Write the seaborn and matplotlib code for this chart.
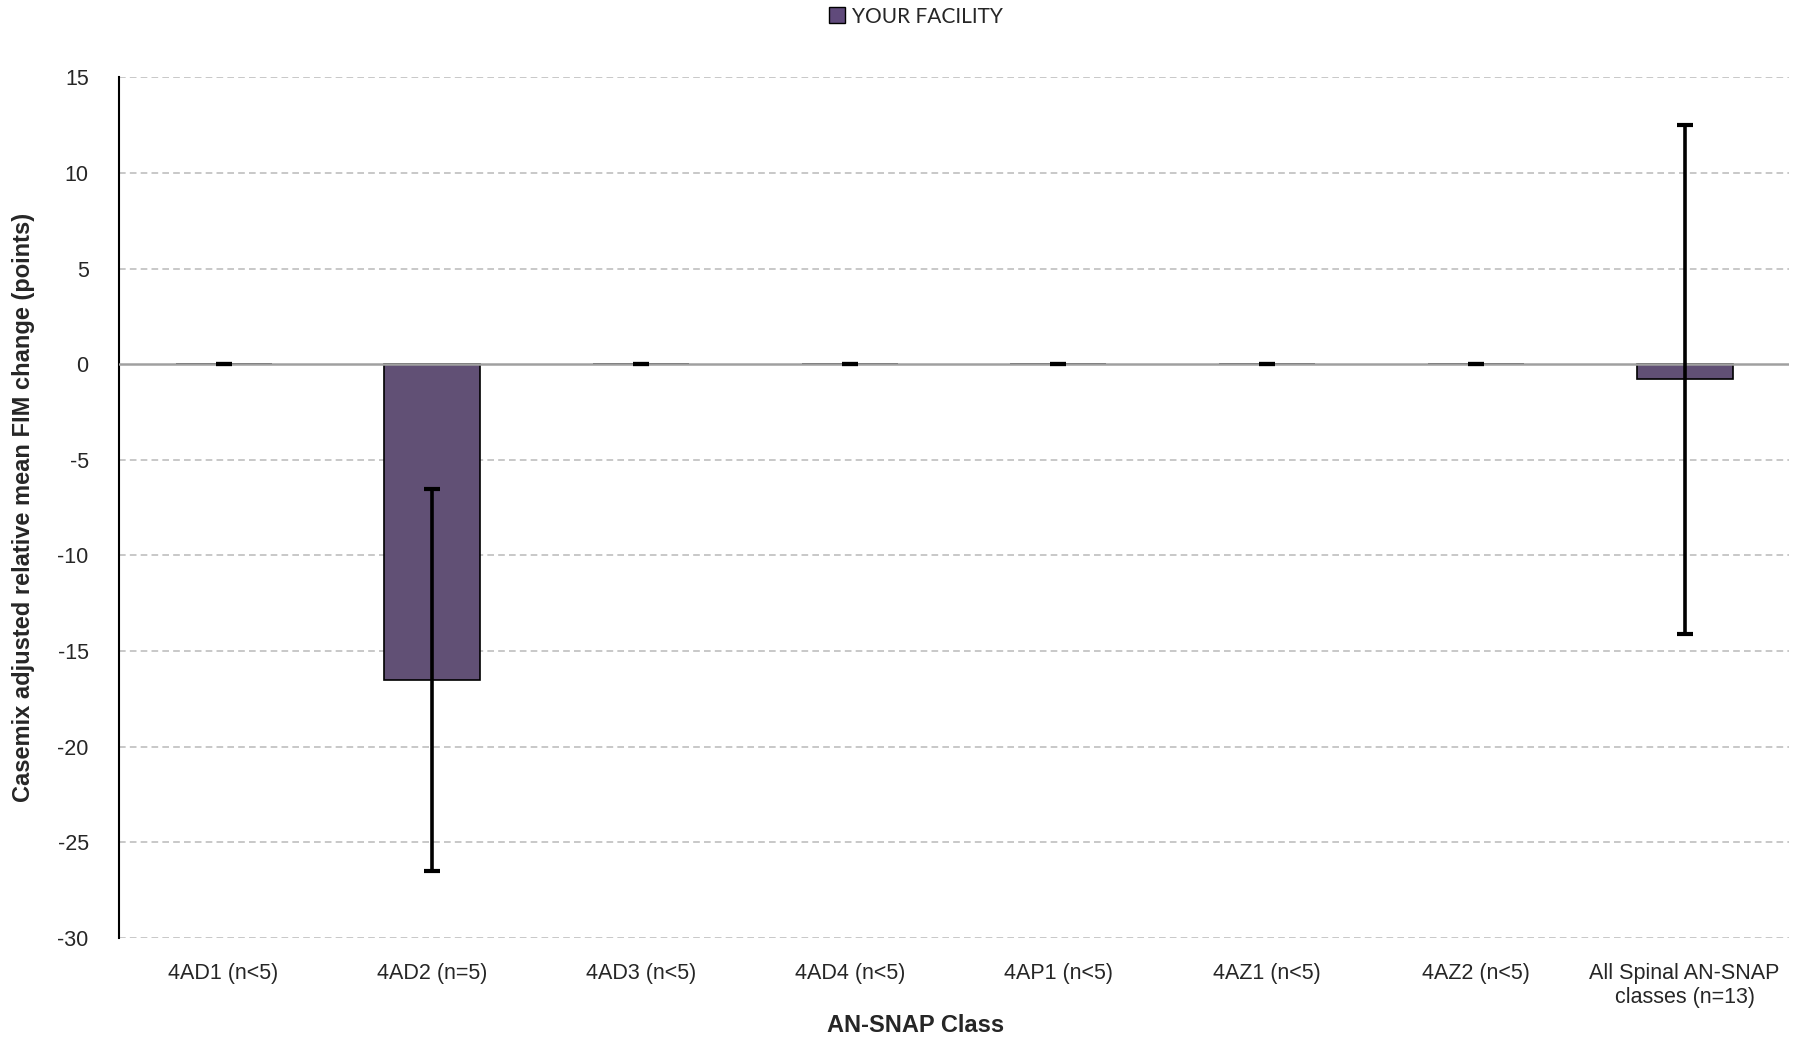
import numpy as np
import pandas as pd
import matplotlib
matplotlib.use("Agg")
import matplotlib.pyplot as plt
import seaborn as sns
from matplotlib.patches import Patch

# values
classes = ["4AD1 (n<5)", "4AD2 (n=5)", "4AD3 (n<5)", "4AD4 (n<5)",
           "4AP1 (n<5)", "4AZ1 (n<5)", "4AZ2 (n<5)",
           "All Spinal AN-SNAP\nclasses (n=13)"]
fim_change = [0.0, -16.5, 0.0, 0.0, 0.0, 0.0, 0.0, -0.8]
err_half = [0.0, 10.0, 0.0, 0.0, 0.0, 0.0, 0.0, 13.3]
y_ticks = [-30, -25, -20, -15, -10, -5, 0, 5, 10, 15]

bar_color = "#604A7B"

df = pd.DataFrame({"cls": classes, "val": fim_change, "err": err_half})

sns.set_style("white")
narrow = ["Liberation Sans Narrow", "Liberation Sans", "DejaVu Sans"]
plt.rcParams["font.family"] = ["Liberation Sans", "DejaVu Sans"]

fig = plt.figure(figsize=(18.06, 10.44), dpi=100)
ax = fig.add_axes([0.066, 0.1015, 0.9246, 0.8245])

sns.barplot(data=df, x="cls", y="val", color=bar_color, width=0.46,
            edgecolor="black", linewidth=1.2, errorbar=None, ax=ax,
            zorder=2)

# error bars
xs = np.arange(len(classes))
ax.errorbar(xs, df["val"], yerr=df["err"], fmt="none", ecolor="black",
            elinewidth=2.6, capsize=6, capthick=3, zorder=4)

ax.set_ylim(-30, 15)
ax.set_xlim(-0.5, len(classes) - 0.5)
ax.set_yticks(y_ticks)
ax.set_yticklabels([str(t) for t in y_ticks], fontsize=15.5)
ax.tick_params(axis="y", length=0, pad=22)
ax.tick_params(axis="x", length=0, pad=18)
for lbl in ax.get_xticklabels():
    lbl.set_family(narrow)
    lbl.set_fontsize(15.5)

# dashed grid + solid zero line
for t in y_ticks:
    if t == 0:
        continue
    ax.axhline(t, color="#BFBFBF", linestyle=(0, (4, 2.5)), linewidth=1.2,
               zorder=0)
ax.axhline(0, color="#A0A0A0", linewidth=1.8, zorder=3)

for s in ["top", "right", "bottom"]:
    ax.spines[s].set_visible(False)
ax.spines["left"].set_color("black")
ax.spines["left"].set_linewidth(1.5)

ax.set_xlabel("")
fig.text(0.507, 0.018, "AN-SNAP Class", fontsize=17, fontweight="bold",
         family=narrow, ha="center", va="center")
ax.set_ylabel("Casemix adjusted relative mean FIM change (points)",
              fontsize=17, fontweight="bold", family=narrow, labelpad=16)

handle = Patch(facecolor=bar_color, edgecolor="black", linewidth=1.0)
fig.legend([handle], ["YOUR FACILITY"], loc="center",
           bbox_to_anchor=(0.507, 0.984), frameon=False,
           prop={"family": ["Lato", "DejaVu Sans"], "size": 15},
           handlelength=0.8, handleheight=0.8, handletextpad=0.3)

fig.savefig("out.png", dpi=100)
